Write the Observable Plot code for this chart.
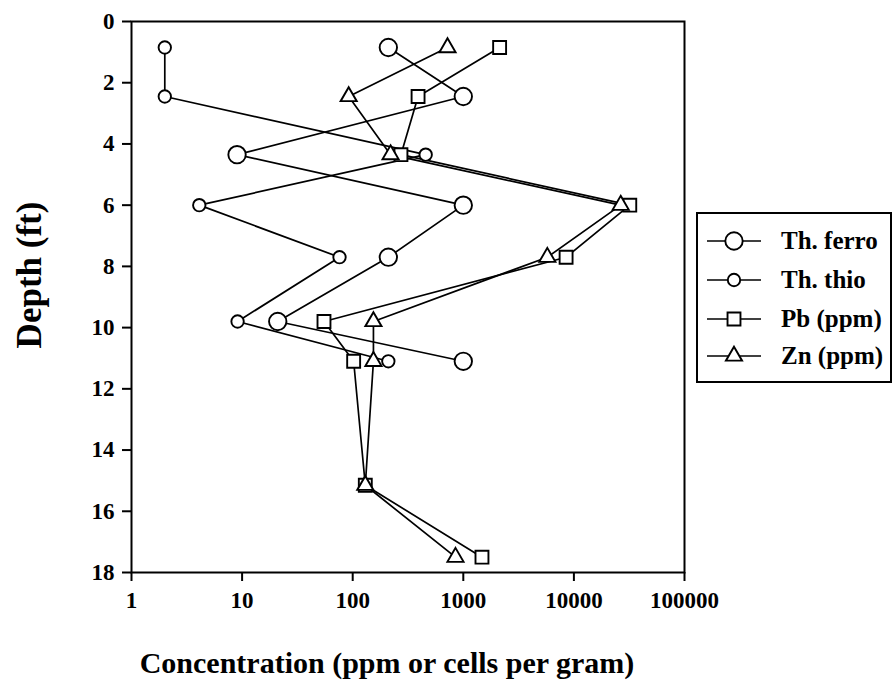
<!DOCTYPE html>
<html>
<head>
<meta charset="utf-8">
<script src="https://cdn.jsdelivr.net/npm/d3@7"></script>
<script src="https://cdn.jsdelivr.net/npm/@observablehq/plot@0.6"></script>
<style>
  html, body { margin: 0; padding: 0; background: white; }
  #wrap { position: relative; width: 895px; height: 690px; }
  #legend { position: absolute; left: 696px; top: 212px; width: 196px; height: 171px;
            border: 2px solid black; box-sizing: border-box; background: white;
            font-family: "Liberation Serif", serif; font-weight: bold; font-size: 25px; }
  .item { position: absolute; left: 9px; height: 30px; display: flex; align-items: center; white-space: nowrap; }
  .item span { margin-left: 20px; }
</style>
</head>
<body>
<div id="wrap"></div>
<script>
// ---- data ----
const seriesNames = ["Th. ferro", "Th. thio", "Pb (ppm)", "Zn (ppm)"];
const depths = [0.85, 2.45, 4.35, 6.0, 7.7, 9.8, 11.1, 15.15, 17.5];
const ferro = [210, 1000, 9, 1000, 210, 21, 1000];
const thio = [2, 2, 457, 4.1, 76, 9.1, 210];
const pb = [2130, 390, 273, 32000, 8500, 55, 102, 130, 1475];
const zn = [720, 92, 220, 26500, 5750, 154, 154, 130, 850];
const xTicks = [1, 10, 100, 1000, 10000, 100000];
const yTicks = [0, 2, 4, 6, 8, 10, 12, 14, 16, 18];
const xTitle = "Concentration (ppm or cells per gram)";
const yTitle = "Depth (ft)";

// ---- build table ----
const valueSets = [ferro, thio, pb, zn];
const rows = [];
valueSets.forEach((vals, i) => vals.forEach((v, j) => rows.push({series: seriesNames[i], depth: depths[j], value: v})));

const symbolOf = {"Th. ferro": d3.symbolCircle, "Th. thio": d3.symbolCircle, "Pb (ppm)": d3.symbolSquare, "Zn (ppm)": d3.symbolTriangle};
const radiusOf = {"Th. ferro": 8.7, "Th. thio": 6.2, "Pb (ppm)": 7.3, "Zn (ppm)": 6};
const font = "Liberation Serif";

const chart = Plot.plot({
  width: 895, height: 690,
  marginTop: 21, marginBottom: 118, marginLeft: 131, marginRight: 211,
  style: {fontFamily: font, fontWeight: "bold", fontSize: "23px", background: "white", color: "black"},
  x: {type: "log", domain: [1, 100000]},
  y: {domain: [0, 18], reverse: true},
  r: {type: "identity"},
  marks: [
    Plot.axisX({ticks: xTicks, tickFormat: d => String(d), tickSize: 9, tickPadding: 10, label: null, strokeWidth: 2, fontSize: 23}),
    Plot.axisY({ticks: yTicks, tickFormat: d => String(d), tickSize: 9, tickPadding: 8, label: null, strokeWidth: 2, fontSize: 23}),
    Plot.frame({stroke: "black", strokeWidth: 2}),
    Plot.line(rows, {x: "value", y: "depth", z: "series", stroke: "black", strokeWidth: 1.7}),
    ...seriesNames.map(s => Plot.dot(rows.filter(d => d.series === s), {
      x: "value", y: "depth", r: () => radiusOf[s], symbol: () => symbolOf[s],
      fill: "white", stroke: "black", strokeWidth: 1.9
    })),
    Plot.text([xTitle], {frameAnchor: "bottom", textAnchor: "middle", lineAnchor: "middle", dx: -21, dy: 91,
      text: d => d, fontSize: 30, fontWeight: "bold", fontFamily: font, fill: "black"}),
    Plot.text([yTitle], {frameAnchor: "left", textAnchor: "middle", lineAnchor: "middle", dx: -102, dy: -22, rotate: -90,
      text: d => d, fontSize: 35, fontWeight: "bold", fontFamily: font, fill: "black"})
  ]
});

const wrap = document.getElementById("wrap");
wrap.appendChild(chart);

// ---- legend ----
const legend = document.createElement("div");
legend.id = "legend";
const itemTops = [12, 51, 90, 127];
seriesNames.forEach((s, i) => {
  const item = document.createElement("div");
  item.className = "item";
  item.style.top = itemTops[i] + "px";
  const svg = d3.create("svg").attr("width", 54).attr("height", 30);
  svg.append("line").attr("x1", 0).attr("x2", 54).attr("y1", 15).attr("y2", 15).attr("stroke", "black").attr("stroke-width", 1.7);
  svg.append("path").attr("transform", "translate(27,15)")
    .attr("d", d3.symbol(symbolOf[s], Math.PI * radiusOf[s] ** 2)())
    .attr("fill", "white").attr("stroke", "black").attr("stroke-width", 1.9);
  item.appendChild(svg.node());
  const label = document.createElement("span");
  label.textContent = s;
  item.appendChild(label);
  legend.appendChild(item);
});
wrap.appendChild(legend);
</script>
</body>
</html>
